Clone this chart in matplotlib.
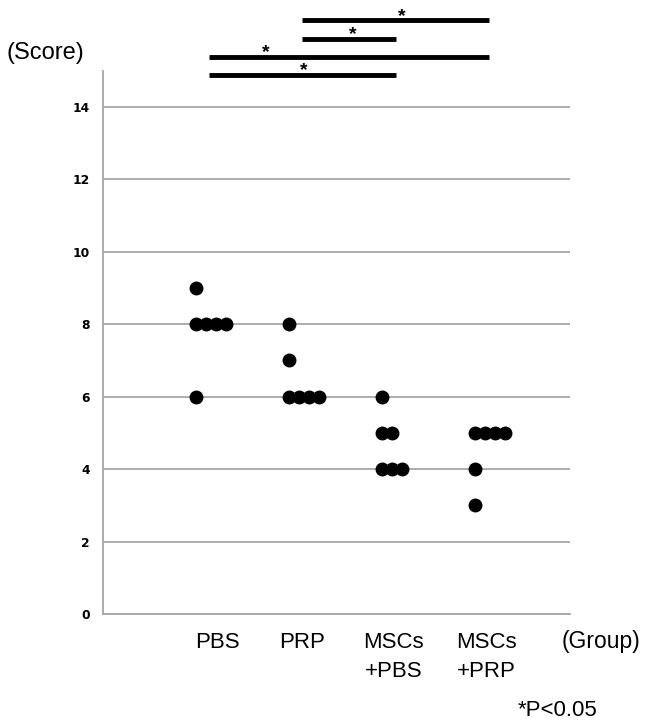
import numpy as np
import matplotlib.pyplot as plt
from matplotlib.transforms import blended_transform_factory

plt.rcParams['font.family'] = ['Liberation Sans', 'DejaVu Sans']

# Scores per group (one dot per animal)
groups = ['PBS', 'PRP', 'MSCs\n+PBS', 'MSCs\n+PRP']
pbs = [9, 8, 8, 8, 8, 6]
prp = [8, 7, 6, 6, 6, 6]
mscs_pbs = [6, 5, 5, 4, 4, 4]
mscs_prp = [5, 5, 5, 5, 4, 3]
scores = [pbs, prp, mscs_pbs, mscs_prp]

# Significant comparisons (group index pairs), P<0.05
pairs = [(1, 3), (1, 2), (0, 3), (0, 2)]
bar_y = [16.39, 15.88, 15.38, 14.88]
star_x = [2.21, 1.69, 0.75, 1.16]

yticks = [0, 2, 4, 6, 8, 10, 12, 14]

fig = plt.figure(figsize=(6.46, 7.2), dpi=100)
ax = fig.add_axes([103 / 646, 1 - 614 / 720, (570 - 103) / 646, (614 - 70.7) / 720])

step = 0.107
for i, vals in enumerate(scores):
    for v in sorted(set(vals), reverse=True):
        n = vals.count(v)
        xs = i + step * np.arange(n)
        ax.plot(xs, [v] * n, 'o', color='black', ms=9, mec='black', zorder=3)

ax.set_xlim(-1.0, 4.02)
ax.set_ylim(0, 15)
ax.set_yticks(yticks)
ax.set_yticklabels([str(t) for t in yticks], family='DejaVu Sans', fontsize=8.8,
                   fontweight='semibold')
ax.tick_params(axis='y', length=0, pad=9.4)
ax.set_xticks([])
ax.yaxis.grid(True, color='#a6a6a6', lw=1.3)
ax.set_axisbelow(True)
for s in ['top', 'right']:
    ax.spines[s].set_visible(False)
ax.spines['left'].set_color('#a6a6a6')
ax.spines['left'].set_linewidth(1.3)
ax.spines['bottom'].set_color('#a6a6a6')
ax.spines['bottom'].set_linewidth(1.3)

# significance bars
for (a, b), y, sx in zip(pairs, bar_y, star_x):
    ax.plot([a + 0.14, b + 0.15], [y, y], color='black', lw=3.5, clip_on=False,
            solid_capstyle='butt')
    ax.text(sx, y - 0.01, '*', ha='center', va='baseline', fontsize=14,
            fontweight='bold', clip_on=False)

# group labels
label_x = [0.23, 1.14, 2.12, 3.12]
trans = blended_transform_factory(ax.transData, fig.transFigure)
for x, g in zip(label_x, groups):
    ax.text(x, 1 - 632 / 720, g, transform=trans, ha='center', va='top',
            fontsize=16, linespacing=1.49)
fig.text(562 / 646, 1 - 648 / 720, '(Group)', ha='left', va='baseline', fontsize=16.5)
fig.text(7 / 646, 1 - 59 / 720, '(Score)', ha='left', va='baseline', fontsize=17)
fig.text(518 / 646, 1 - 716 / 720, '*P<0.05', ha='left', va='baseline', fontsize=16)

fig.savefig('out.png', dpi=100)
